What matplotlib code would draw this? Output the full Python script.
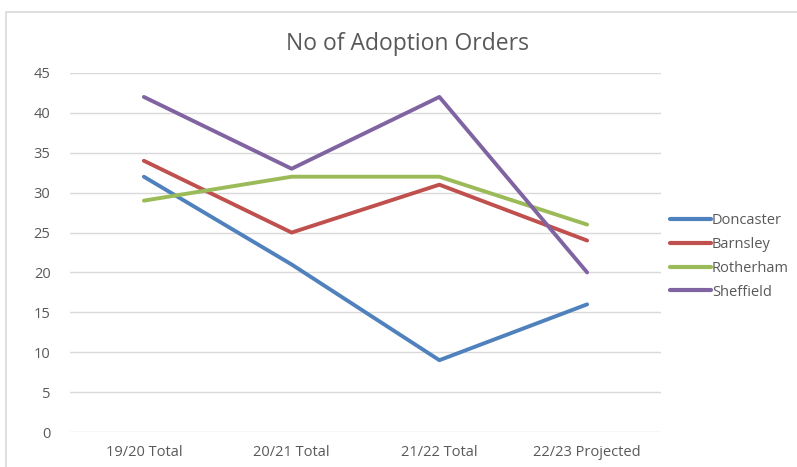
import matplotlib
matplotlib.use("Agg")
import matplotlib.pyplot as plt
from matplotlib.patches import Rectangle

categories = ["19/20 Total", "20/21 Total", "21/22 Total", "22/23 Projected"]
doncaster = [32, 21, 9, 16]
barnsley = [34, 25, 31, 24]
rotherham = [29, 32, 32, 26]
sheffield = [42, 33, 42, 20]
series_names = ["Doncaster", "Barnsley", "Rotherham", "Sheffield"]
colors = ["#4F81BD", "#C0504D", "#9BBB59", "#8064A2"]

plt.rcParams["font.family"] = ["Open Sans", "DejaVu Sans"]

fig = plt.figure(figsize=(7.97, 4.67), dpi=100)
fig.patches.append(Rectangle((6/797, -0.1), 2, 1.1 - 12/467, transform=fig.transFigure,
                             fill=False, edgecolor="#D9D9D9", linewidth=1.2))
ax = fig.add_axes([70/797, 1-432/467, (661-70)/797, (432-73)/467])

x = range(len(categories))
for vals, name, c in zip([doncaster, barnsley, rotherham, sheffield], series_names, colors):
    ax.plot(x, vals, color=c, linewidth=2.8, label=name, solid_capstyle="round", solid_joinstyle="round")

ax.set_xlim(-0.5, 3.5)
ax.set_ylim(0, 45)
ax.set_yticks(range(0, 46, 5))
ax.set_xticks(list(x))
ax.set_xticklabels(categories)
ax.grid(axis="y", color="#D9D9D9", linewidth=1)
ax.set_axisbelow(True)
for s in ax.spines.values():
    s.set_visible(False)
ax.tick_params(length=0, colors="#595959", labelsize=10.5)
ax.tick_params(axis="y", pad=14)
ax.tick_params(axis="x", pad=9)

fig.text(408/797, 1-44/467, "No of Adoption Orders", ha="center", va="center",
         fontsize=16.5, color="#595959")

leg = ax.legend(loc="center left", bbox_to_anchor=(1.0, 0.489), frameon=False,
                fontsize=10.5, handlelength=2.8, handletextpad=0.1, labelspacing=0.6,
                labelcolor="#595959", borderaxespad=0.2)
for line in leg.get_lines():
    line.set_linewidth(3)

fig.savefig("out.png", dpi=100)
